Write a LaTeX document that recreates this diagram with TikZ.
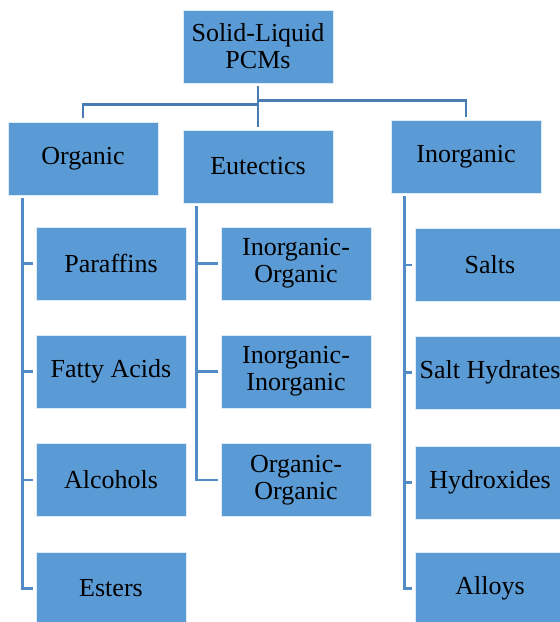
\documentclass[tikz,border=0pt]{standalone}
\usepackage{fontspec}
\setmainfont{Liberation Serif}
\definecolor{boxblue}{RGB}{91,155,213}
\definecolor{linkblue}{RGB}{72,124,178}
\definecolor{sublink}{RGB}{82,139,198}
\begin{document}
\begin{tikzpicture}[x=1pt,y=-1pt,
 box/.style={draw=white!80!boxblue, line width=0.8pt, fill=boxblue, rectangle, minimum height=73pt, minimum width=150pt, align=center, inner sep=0pt, font=\fontsize{26}{27}\selectfont},
 link/.style={draw=linkblue, line width=2.8pt},
 sublink/.style={draw=sublink, line width=2.6pt}]
 \useasboundingbox (0,0) rectangle (560,622);

 \node[box] (top) at (258,46.5) {Solid-Liquid\\PCMs};

 \node[box] (org) at (83,158.5) {Organic};
 \node[box] (eut) at (258,166.5) {Eutectics};
 \node[box] (inorg) at (466,156.5) {Inorganic};

 \node[box] (para) at (111,263.5) {Paraffins};
 \node[box] (fatty) at (111,371.5) {Fatty Acids};
 \node[box] (alc) at (111,480) {Alcohols};
 \node[box] (est) at (111,588.5) {Esters};

 \node[box] (inorgorg) at (296,263.5) {Inorganic-\\Organic};
 \node[box] (inorginorg) at (296,371.5) {Inorganic-\\Inorganic};
 \node[box] (orgorg) at (296,480) {Organic-\\Organic};

 \node[box] (salts) at (490,265) {Salts};
 \node[box] (hydr) at (490,372.5) {Salt Hydrates};
 \node[box] (hydrox) at (490,482.5) {Hydroxides};
 \node[box] (alloys) at (490,588.5) {Alloys};

 % top level
 \draw[link] ([yshift=-3pt]top.south) -- ([yshift=3pt]eut.north);
 \draw[link] ([yshift=-21pt]top.south) -| ([yshift=4pt]org.north);
 \draw[link] ([yshift=-17pt]top.south) -| ([yshift=3pt]inorg.north);

 % organic
 \draw[sublink, shorten >=3pt] ([xshift=15pt,yshift=-3pt]org.south west) |- (est.west);
 \draw[sublink, shorten >=3pt] (para.west -| est.west) ++(-13pt,0) -- (para.west);
 \draw[sublink, shorten >=3pt] (fatty.west) ++(-13pt,0) -- (fatty.west);
 \draw[sublink, shorten >=3pt] (alc.west) ++(-13pt,0) -- (alc.west);

 % eutectics
 \draw[sublink, shorten >=3pt] ([xshift=14pt,yshift=-3pt]eut.south west) |- (orgorg.west);
 \draw[sublink, shorten >=3pt] (inorgorg.west) ++(-24pt,0) -- (inorgorg.west);
 \draw[sublink, shorten >=3pt] (inorginorg.west) ++(-24pt,0) -- (inorginorg.west);

 % inorganic
 \draw[sublink, shorten >=3pt] ([xshift=14pt,yshift=-3pt]inorg.south west) |- (alloys.west);
 \draw[sublink, shorten >=3pt] (salts.west) ++(-10pt,0) -- (salts.west);
 \draw[sublink, shorten >=3pt] (hydr.west) ++(-10pt,0) -- (hydr.west);
 \draw[sublink, shorten >=3pt] (hydrox.west) ++(-10pt,0) -- (hydrox.west);
\end{tikzpicture}
\end{document}
